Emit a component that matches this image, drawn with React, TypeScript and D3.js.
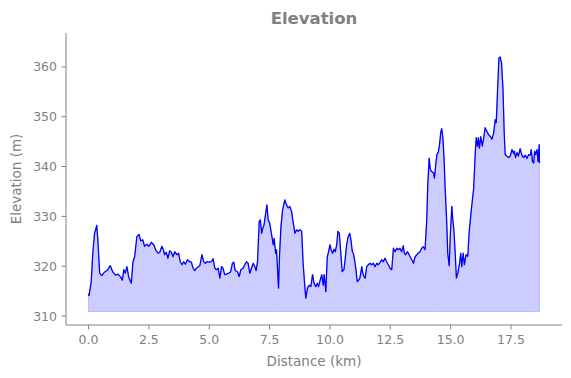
import React from "react";
import * as d3 from "d3";

const distanceKm: number[] = [
  0.0, 0.02, 0.11, 0.18, 0.25, 0.34, 0.39, 0.46, 0.55, 0.59, 0.66, 0.8, 0.9, 1.01, 1.12, 1.22, 1.32, 1.4, 1.46, 1.52,
  1.59, 1.66, 1.77, 1.84, 1.91, 2.0, 2.09, 2.16, 2.25, 2.32, 2.42, 2.5, 2.6, 2.7, 2.78, 2.88, 2.95, 3.04, 3.12,
  3.15, 3.22, 3.29, 3.36, 3.43, 3.5, 3.57, 3.66, 3.73, 3.8, 3.87, 3.94, 4.01, 4.1, 4.19, 4.26, 4.33, 4.4, 4.47, 4.54,
  4.61, 4.7, 4.77, 4.84, 4.91, 4.99, 5.09, 5.16, 5.23, 5.3, 5.37, 5.44, 5.51, 5.57, 5.64, 5.71, 5.81, 5.89, 5.96,
  6.02, 6.07, 6.17, 6.24, 6.31, 6.4, 6.47, 6.54, 6.61, 6.68, 6.75, 6.82, 6.89, 6.94, 7.0, 7.07, 7.12, 7.17, 7.22,
  7.27, 7.34, 7.39, 7.44, 7.5, 7.55, 7.61, 7.65, 7.69, 7.75, 7.79, 7.83, 7.87, 7.91, 7.97, 8.04, 8.13, 8.2, 8.27,
  8.34, 8.41, 8.48, 8.55, 8.62, 8.68, 8.76, 8.83, 8.89, 8.96, 9.0, 9.07, 9.14, 9.21, 9.28, 9.34, 9.41, 9.47, 9.53,
  9.58, 9.66, 9.72, 9.76, 9.83, 9.89, 9.93, 10.0, 10.05, 10.11, 10.17, 10.22, 10.28, 10.33, 10.39, 10.46, 10.51,
  10.58, 10.63, 10.69, 10.76, 10.82, 10.87, 10.93, 10.97, 11.02, 11.08, 11.13, 11.19, 11.24, 11.32, 11.36, 11.41,
  11.46, 11.52, 11.59, 11.66, 11.73, 11.8, 11.87, 11.94, 12.0, 12.07, 12.14, 12.21, 12.28, 12.35, 12.42, 12.49,
  12.56, 12.63, 12.7, 12.77, 12.83, 12.9, 12.97, 13.04, 13.08, 13.14, 13.2, 13.25, 13.32, 13.39, 13.46, 13.53, 13.6,
  13.66, 13.73, 13.8, 13.87, 13.94, 14.01, 14.05, 14.11, 14.16, 14.22, 14.29, 14.33, 14.39, 14.43, 14.49, 14.54,
  14.59, 14.63, 14.68, 14.73, 14.77, 14.84, 14.88, 14.94, 14.99, 15.05, 15.09, 15.13, 15.19, 15.24, 15.3, 15.37,
  15.42, 15.46, 15.52, 15.57, 15.64, 15.71, 15.77, 15.85, 15.95, 16.02, 16.06, 16.11, 16.15, 16.19, 16.25, 16.31,
  16.36, 16.43, 16.5, 16.57, 16.64, 16.71, 16.78, 16.85, 16.89, 16.94, 17.0, 17.05, 17.11, 17.17, 17.22, 17.26,
  17.33, 17.4, 17.47, 17.54, 17.61, 17.64, 17.69, 17.75, 17.81, 17.88, 17.95, 18.02, 18.09, 18.16, 18.23, 18.3,
  18.34, 18.39, 18.44, 18.48, 18.52, 18.58, 18.62, 18.67, 18.68,
];

const elevationM: number[] = [
  314.5, 314.1, 316.9, 322.9, 326.6, 328.2, 325.0, 318.6, 318.1, 318.4, 318.8, 319.3, 320.1, 318.8, 318.2, 318.4,
  317.9, 317.2, 319.3, 318.6, 319.9, 317.9, 316.6, 320.9, 321.9, 325.9, 326.4, 325.1, 325.3, 324.0, 324.4, 324.0,
  324.8, 324.3, 323.3, 322.6, 322.8, 324.0, 323.0,
  322.3, 322.8, 321.6, 323.1, 322.8, 321.9, 322.9, 322.3, 322.6, 320.9, 320.3, 320.9, 320.4, 321.3, 320.9, 320.8,
  319.6, 319.1, 319.6, 319.9, 320.1, 322.3, 320.9, 320.6, 320.9, 320.8, 320.9, 321.5, 319.6, 319.3, 319.6, 317.6,
  319.9, 319.6, 318.3, 318.4, 318.6, 318.9, 320.6, 320.8, 319.2,
  318.9, 317.9, 319.3, 319.6, 320.3, 320.9, 320.6, 318.6, 319.6, 320.6, 319.9, 319.1, 320.9, 329.0, 329.3, 326.6,
  327.6, 328.3, 330.7, 332.3, 329.3, 328.7, 327.3, 325.6, 324.3, 325.6, 322.6, 323.3, 319.3, 315.6, 321.9, 328.0,
  331.3, 333.3, 332.3, 331.7, 332.0, 331.0, 328.7, 326.6, 327.3, 327.0, 327.3, 327.0, 320.6, 315.9, 313.6, 315.6,
  316.2, 315.9,
  318.3, 316.6, 315.9, 316.6, 315.9, 316.9, 318.3, 316.2, 318.3, 314.9, 321.9, 322.6, 324.3, 323.3, 322.6, 323.4,
  322.9, 324.3, 327.0, 326.6, 321.9, 318.9, 319.3, 321.3, 324.3, 326.0, 326.6, 325.3, 322.9, 322.6, 321.3, 319.3,
  316.9, 317.2, 317.6, 319.9, 318.6, 317.9, 317.6, 319.9, 320.3, 320.6, 320.3, 320.6, 319.9, 320.6, 320.3, 320.7,
  321.3, 320.9, 321.6, 320.9,
  320.3, 319.6, 319.3, 323.6, 322.9, 323.6, 323.3, 323.6, 322.9, 324.1, 322.6, 322.3, 322.9, 322.6, 321.9, 321.3,
  320.6, 321.9, 322.3, 322.6, 322.9, 323.6, 323.9, 323.3, 329.3, 336.0, 341.7, 339.4, 339.0, 338.7, 337.7, 340.7,
  342.4, 342.9, 344.4, 346.8, 347.6, 345.8, 341.4, 336.0, 328.7, 322.6, 320.1, 326.6, 332.0, 329.3, 327.6, 322.6,
  317.6, 318.6, 320.6, 322.6, 319.9, 322.6, 320.3, 322.3, 322.0, 327.0, 331.0, 335.4,
  342.7, 345.8, 344.1, 345.8, 343.7, 346.0, 344.1, 345.4, 347.8, 347.1, 346.4, 346.1, 345.5, 346.7, 349.4, 348.8,
  354.8, 361.8, 362.0, 360.8, 355.5, 346.8, 342.4, 342.1, 341.8, 342.1, 343.4, 342.6, 343.1, 341.8, 342.8, 342.1,
  343.6, 342.3, 341.8, 342.3, 341.6, 342.4, 342.3, 343.4, 341.0, 340.7, 343.1, 342.4, 343.4, 341.0, 344.4, 340.7,
];

const xTicks: number[] = [0, 2.5, 5, 7.5, 10, 12.5, 15, 17.5];
const yTicks: number[] = [310, 320, 330, 340, 350, 360];
const fillBase = 310.9;
const yDomain: [number, number] = [308.2, 366.8];

const titleText = "Elevation";
const xLabelText = "Distance (km)";
const yLabelText = "Elevation (m)";

export default function App() {
  const W = 571;
  const H = 378;
  const left = 66;
  const right = 562;
  const top = 33;
  const bottom = 325;
  const gray = "#808080";
  const font = "DejaVu Sans, sans-serif";

  const xMax = d3.max(distanceKm) as number;
  const pad = xMax * 0.05;
  const x = d3.scaleLinear().domain([-pad, xMax + pad]).range([left, right]);
  const y = d3.scaleLinear().domain(yDomain).range([bottom, top]);

  const pts: [number, number][] = distanceKm.map((d, i) => [d, elevationM[i]]);
  const line = d3
    .line<[number, number]>()
    .x((d) => x(d[0]))
    .y((d) => y(d[1]));
  const area = d3
    .area<[number, number]>()
    .x((d) => x(d[0]))
    .y0(() => y(fillBase))
    .y1((d) => y(d[1]));

  const tickLen = 4.5;

  return (
    <svg
      width={W}
      height={H}
      style={{ position: "absolute", left: 0, top: 0, background: "#fff" }}
      fontFamily={font}
    >
      <rect x={0} y={0} width={W} height={H} fill="#fff" />
      <path d={area(pts) || ""} fill="rgba(0,0,255,0.2)" stroke="rgba(0,0,255,0.2)" strokeWidth={1} />
      <path d={line(pts) || ""} fill="none" stroke="#0000ff" strokeWidth={1.3} strokeLinejoin="round" />

      <line x1={left} x2={left} y1={top} y2={bottom} stroke={gray} strokeWidth={1} />
      <line x1={left} x2={right} y1={bottom} y2={bottom} stroke={gray} strokeWidth={1} />

      {xTicks.map((t) => (
        <g key={"x" + t}>
          <line x1={x(t)} x2={x(t)} y1={bottom} y2={bottom + tickLen} stroke={gray} strokeWidth={1} />
          <text x={x(t)} y={bottom + 19} textAnchor="middle" fontSize={12.5} fill={gray}>
            {d3.format(".1f")(t)}
          </text>
        </g>
      ))}
      {yTicks.map((t) => (
        <g key={"y" + t}>
          <line x1={left - tickLen} x2={left} y1={y(t)} y2={y(t)} stroke={gray} strokeWidth={1} />
          <text x={left - 9} y={y(t) + 4.5} textAnchor="end" fontSize={12.5} fill={gray}>
            {t}
          </text>
        </g>
      ))}

      <text x={(left + right) / 2} y={23.5} textAnchor="middle" fontSize={16.5} fontWeight="bold" fill={gray}>
        {titleText}
      </text>
      <text x={(left + right) / 2} y={366} textAnchor="middle" fontSize={13.5} fill={gray}>
        {xLabelText}
      </text>
      <text
        transform={`translate(${21},${(top + bottom) / 2}) rotate(-90)`}
        textAnchor="middle"
        fontSize={13.5}
        fill={gray}
      >
        {yLabelText}
      </text>
    </svg>
  );
}
